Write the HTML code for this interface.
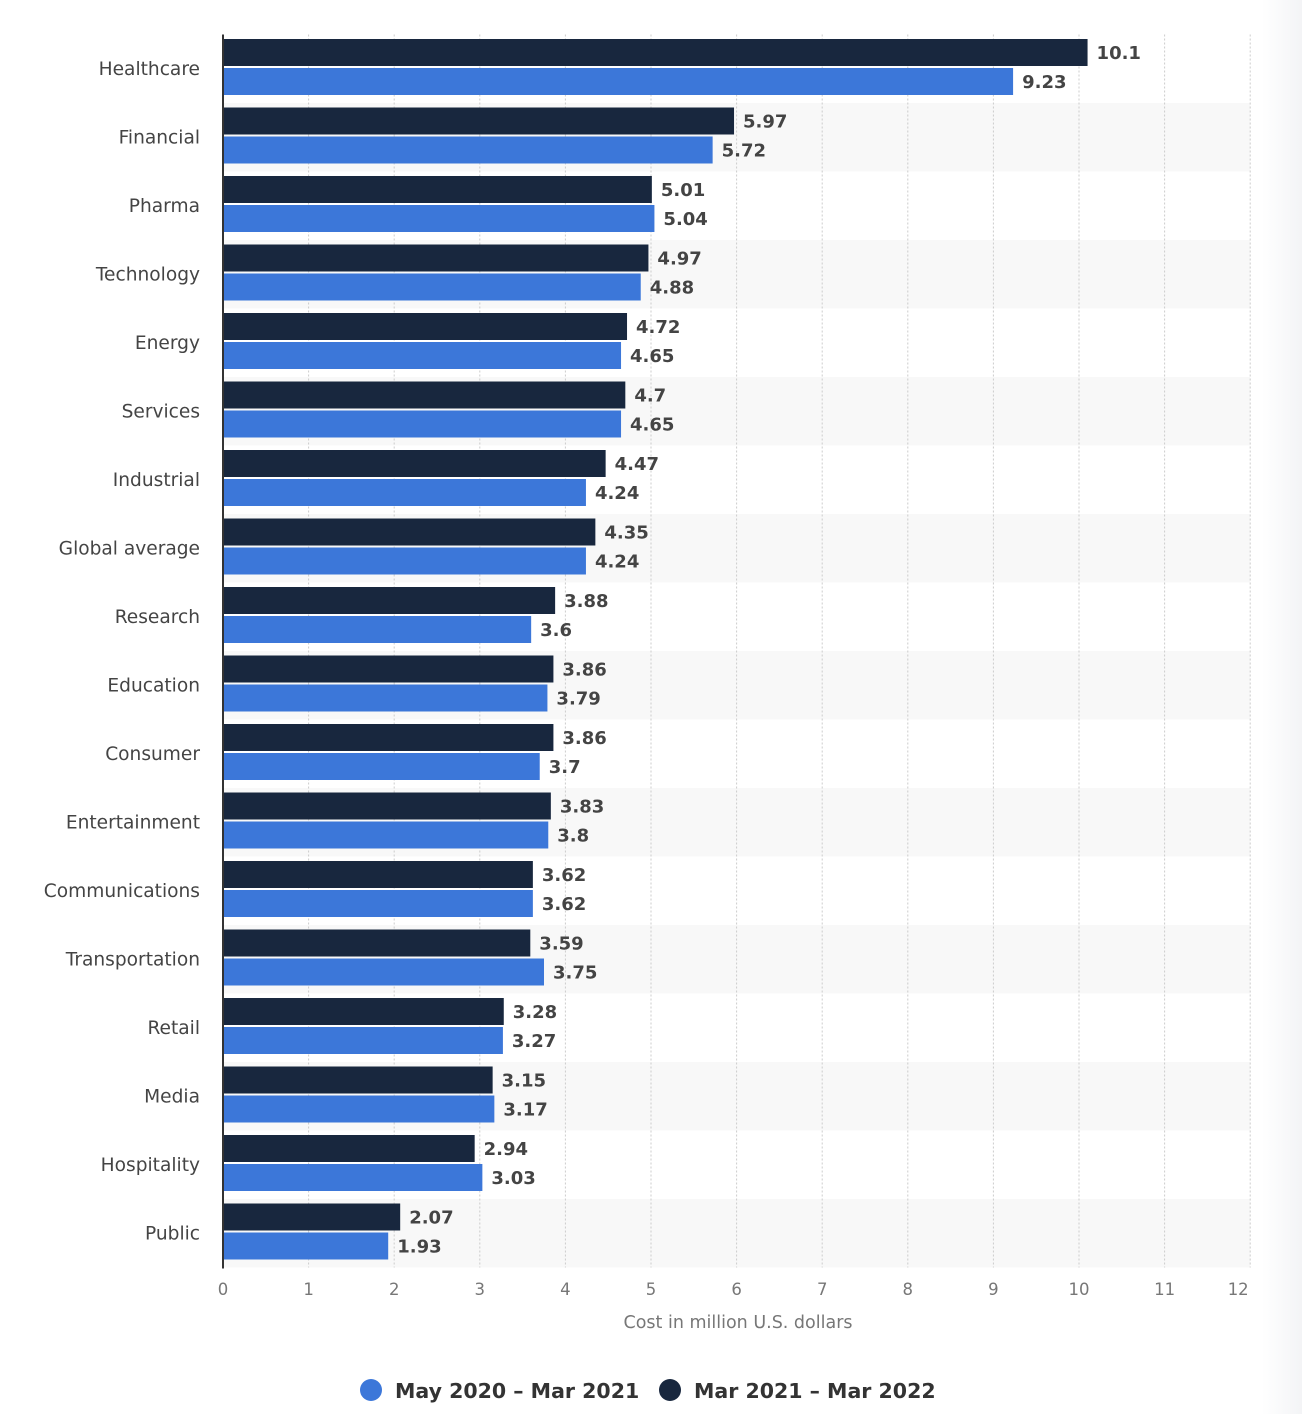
<!DOCTYPE html>
<html><head><meta charset="utf-8"><style>
body{margin:0;background:#fff;width:1302px;height:1414px;overflow:hidden;font-family:"DejaVu Sans","Liberation Sans",sans-serif}
</style></head><body>
<svg id="chart" width="1302" height="1414" xmlns="http://www.w3.org/2000/svg">
<defs><linearGradient id="sh" x1="0" x2="1"><stop offset="0" stop-color="#fff"/><stop offset="1" stop-color="#f3f4f6"/></linearGradient></defs>
<rect x="1262" y="0" width="40" height="1414" fill="url(#sh)"/>
</svg>
<script>
const categories=["Healthcare","Financial","Pharma","Technology","Energy","Services","Industrial","Global average","Research","Education","Consumer","Entertainment","Communications","Transportation","Retail","Media","Hospitality","Public"];
const series2022=[10.1,5.97,5.01,4.97,4.72,4.7,4.47,4.35,3.88,3.86,3.86,3.83,3.62,3.59,3.28,3.15,2.94,2.07];
const series2021=[9.23,5.72,5.04,4.88,4.65,4.65,4.24,4.24,3.6,3.79,3.7,3.8,3.62,3.75,3.27,3.17,3.03,1.93];
const ticks=[0,1,2,3,4,5,6,7,8,9,10,11,12];
const svg=document.getElementById('chart');
const NS='http://www.w3.org/2000/svg';
const X0=223,UNIT=85.6,TOP=34.5,ROW=68.5;
const x=v=>X0+v*UNIT;
function mk(t,a,p){const e=document.createElementNS(NS,t);for(const k in a)e.setAttribute(k,a[k]);(p||svg).appendChild(e);return e;}
categories.forEach((c,i)=>{if(i%2===1){const r=mk('rect',{x:X0,y:TOP+i*ROW,width:x(12)-X0,height:ROW,fill:'#f8f8f8'});

}});
ticks.forEach(t=>{if(t>0){const l=mk('line',{x1:x(t),x2:x(t),y1:TOP,y2:TOP+18*ROW,stroke:'#ccc','stroke-dasharray':'2,2'});

}
const tx=mk('text',{x:t===12?x(t)-12:x(t),y:1295,'text-anchor':'middle','font-size':'16.5',fill:'#777'});tx.textContent=t;

});
categories.forEach((c,i)=>{const y0=TOP+i*ROW;
const lb=mk('text',{x:200,y:y0+ROW/2+6,'text-anchor':'end','font-size':'18.6',fill:'#444'});lb.textContent=c;


[[series2022[i],'#18273e',4.5],[series2021[i],'#3c77d9',33.5]].forEach(([v,col,off])=>{
const b=mk('rect',{x:X0,y:y0+off,width:x(v)-X0,height:27,fill:col});


const vt=mk('text',{x:x(v)+9,y:y0+off+20,'font-size':'18','font-weight':'bold',fill:'#444'});vt.textContent=v;

});});
const ax=mk('line',{x1:X0,x2:X0,y1:TOP,y2:TOP+18*ROW+1,stroke:'#333','stroke-width':2});


const at=mk('text',{x:738,y:1328,'text-anchor':'middle','font-size':'17.5',fill:'#777'});at.textContent='Cost in million U.S. dollars';


[[371,'#3c77d9','May 2020 – Mar 2021'],[670,'#18273e','Mar 2021 – Mar 2022']].forEach(([cx,col,t])=>{
const g=mk('g',{});


mk('circle',{cx:cx,cy:1390,r:11,fill:col},g);
const tt=mk('text',{x:cx+24,y:1398,'font-size':'20.5','font-weight':'bold',fill:'#333'},g);tt.textContent=t;});
</script>
</body></html>
